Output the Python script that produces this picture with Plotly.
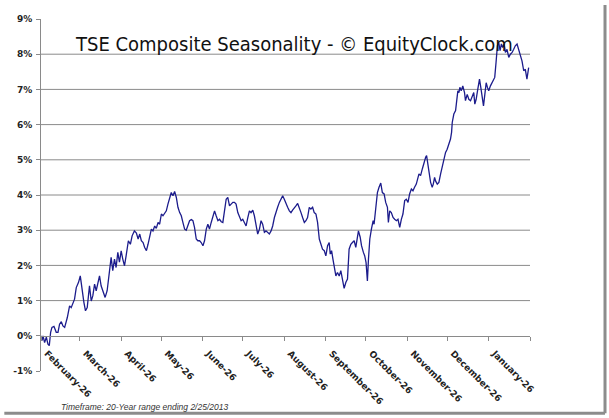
import pandas as pd
import plotly.graph_objects as go

# ---- data ----
start_date = "2012-02-26"
end_date = "2013-02-26"

day_offset = [
    0, 0.75, 1.5, 2.7, 4.0, 5.2, 6.2, 7.2, 8.2, 9.7, 11.4, 12.7, 13.9, 15.2, 16.4, 17.7,
    19.7, 21.4, 22.6, 23.9, 25.1, 26.4, 28.1, 29.4, 30.6, 32.1, 33.3, 34.6, 36.3, 37.6,
    38.8, 40.1, 41.3, 42.5, 43.8, 45.0, 46.3, 48.0, 49.5, 51.3, 52.5, 53.7, 55.0, 56.2,
    57.5, 58.7, 60.0, 61.2, 62.5, 63.7, 65.4, 66.9, 68.2, 69.9, 71.4, 72.7, 73.9, 75.1,
    76.4, 77.6, 78.9, 80.1, 81.4, 82.6, 83.8, 85.1, 86.3, 87.6, 88.8, 90.1, 91.3, 92.6,
    93.8, 95.0, 96.3, 97.5, 98.8, 100.0, 101.3, 102.5, 103.8, 105.0, 106.2, 107.5, 108.7,
    110.0, 111.2, 112.5, 113.7, 114.9, 116.2, 117.4, 118.7, 119.9, 121.2, 122.4, 123.7,
    124.9, 126.1, 127.4, 128.6, 129.9, 131.1, 132.4, 133.6, 134.9, 136.1, 137.3, 138.6,
    139.8, 141.1, 142.3, 143.6, 144.8, 146.0, 147.3, 148.5, 149.8, 151.0, 152.3, 153.5,
    154.8, 156.0, 157.2, 158.5, 159.7, 161.0, 162.2, 163.5, 164.7, 165.9, 167.2, 168.4,
    169.7, 170.9, 172.2, 173.4, 174.7, 175.9, 177.1, 178.4, 179.6, 180.9, 182.1, 183.4,
    184.6, 185.9, 187.1, 188.3, 189.6, 190.8, 192.1, 193.3, 194.6, 195.8, 197.1, 198.3,
    199.5, 200.8, 202.0, 203.3, 204.5, 205.8, 207.0, 208.3, 209.5, 210.7, 212.0, 213.2,
    214.5, 215.7, 216.5, 217.5, 218.5, 219.5, 220.7, 221.9, 223.2, 224.4, 225.7, 226.9,
    228.2, 229.4, 230.6, 231.9, 233.1, 234.4, 235.6, 236.9, 237.6, 238.9, 239.9, 241.3,
    242.3, 243.3, 244.3, 245.1, 246.1, 247.3, 248.6, 249.3, 250.5, 251.8, 253.0, 254.3,
    255.5, 256.8, 258.0, 259.3, 260.0, 261.0, 262.2, 263.5, 264.7, 266.0, 267.2, 268.5,
    269.7, 270.9, 272.2, 273.4, 274.7, 275.9, 277.2, 278.4, 279.6, 280.9, 282.9, 284.1,
    285.4, 286.6, 287.9, 288.6, 289.6, 290.4, 291.6, 292.8, 293.6, 294.6, 295.3, 296.6,
    297.8, 299.1, 300.3, 301.6, 302.8, 304.0, 305.3, 306.5, 307.3, 307.8, 309.0, 310.3,
    311.0, 312.0, 312.8, 313.5, 314.5, 315.7, 317.0, 317.7, 319.0, 320.2, 321.5, 322.7,
    323.9, 324.7, 325.7, 326.9, 328.2, 329.2, 330.2, 331.2, 332.2, 333.2, 334.2, 335.1,
    336.4, 337.6, 338.9, 339.6, 340.6, 341.6, 342.6, 343.6, 344.6, 345.6, 346.6, 347.6,
    348.8, 350.1, 351.3, 352.6, 353.8, 355.0, 356.3, 357.5, 358.8, 360.0, 361.3, 362.5,
    363.7, 365.0,
]

seasonal_return_pct = [
    0.00, -0.14, 0.00, -0.19, -0.04, -0.24, -0.28, 0.10, 0.24, 0.27, 0.10, 0.10, 0.33, 0.40, 0.28, 0.24,
    0.52, 0.85, 0.80, 0.90, 1.04, 1.37, 1.52, 1.70, 1.28, 0.95, 0.71, 0.80, 1.42, 0.99,
    1.14, 1.47, 1.28, 1.52, 1.70, 1.42, 1.28, 1.09, 1.28, 1.90, 2.23, 1.85, 2.18, 1.94,
    2.37, 2.09, 2.41, 2.18, 1.99, 2.27, 2.70, 2.60, 2.84, 2.98, 2.92, 2.75, 2.89, 2.70,
    2.65, 2.51, 2.42, 2.60, 2.89, 3.03, 2.98, 3.12, 3.05, 3.22, 3.17, 3.46, 3.41, 3.50,
    3.55, 3.74, 3.88, 4.07, 3.98, 4.10, 3.93, 3.65, 3.50, 3.41, 3.22, 3.03, 3.00,
    3.12, 3.27, 3.30, 3.27, 3.08, 2.75, 2.70, 2.70, 2.65, 2.56, 2.70, 3.03,
    3.17, 3.03, 3.22, 3.41, 3.55, 3.41, 3.27, 3.31, 3.24, 3.22, 3.60, 3.88,
    3.93, 3.69, 3.74, 3.79, 3.79, 3.74, 3.50, 3.36, 3.27, 3.31, 3.22, 3.12,
    3.36, 3.55, 3.50, 3.57, 3.41, 3.12, 2.89, 3.03, 3.27, 3.17, 2.94, 2.98,
    2.94, 2.89, 2.98, 3.12, 3.36, 3.55, 3.65, 3.79, 3.88, 3.98, 3.88, 3.74,
    3.65, 3.55, 3.50, 3.57, 3.65, 3.69, 3.76, 3.65, 3.50, 3.36, 3.22, 3.27,
    3.36, 3.65, 3.60, 3.65, 3.50, 3.46, 3.22, 2.75, 2.60, 2.46, 2.42, 2.27,
    2.56, 2.65, 2.32, 2.42, 2.18, 1.94, 1.70, 1.80, 1.70, 1.85, 1.61, 1.35,
    1.52, 1.61, 2.46, 2.60, 2.65, 2.70, 2.51, 2.75, 2.98, 2.80, 2.56, 2.37,
    2.27, 2.08, 1.56, 2.18, 2.75, 3.03, 3.27, 3.17, 3.55, 4.07, 4.22, 4.34,
    4.07, 4.03, 3.79, 3.65, 3.22, 3.55, 3.50, 3.36, 3.31, 3.27, 3.31, 3.08,
    3.31, 3.46, 3.84, 3.88, 3.79, 4.03, 4.17, 4.12, 4.22, 4.31, 4.60, 4.55,
    4.74, 4.93, 5.07, 5.12, 4.88, 4.69, 4.36, 4.22, 4.31, 4.50, 4.40, 4.31,
    4.36, 4.60, 4.79, 5.07, 5.21, 5.30, 5.45, 5.59, 5.78, 6.06, 6.30, 6.40,
    6.63, 6.96, 6.91, 7.06, 6.96, 7.10, 6.91, 6.68, 6.86, 6.72, 6.68, 6.82,
    6.91, 6.58, 6.72, 7.00, 7.29, 7.05, 6.77, 6.53, 6.86, 7.19, 7.05, 6.96,
    7.10, 7.19, 7.29, 7.34, 7.77, 8.24, 8.33, 8.10, 8.29, 8.19, 8.29, 8.05,
    8.14, 7.91, 8.00, 8.05, 8.14, 8.24, 8.29, 8.14, 7.95, 7.81, 7.53, 7.57,
    7.29, 7.62,
]

x_tick_dates = [
    "2012-02-26", "2012-03-26", "2012-04-26", "2012-05-26", "2012-06-26", "2012-07-26",
    "2012-08-26", "2012-09-26", "2012-10-26", "2012-11-26", "2012-12-26", "2013-01-26",
    "2013-02-26",
]
x_tick_labels = [
    "February-26", "March-26", "April-26", "May-26", "June-26", "July-26",
    "August-26", "September-26", "October-26", "November-26", "December-26",
    "January-26", "",
]
y_tick_values = [-1, 0, 1, 2, 3, 4, 5, 6, 7, 8, 9]
y_tick_labels = ["-1%", "0%", "1%", "2%", "3%", "4%", "5%", "6%", "7%", "8%", "9%"]
gridline_values = [1, 2, 3, 4, 5, 6, 7, 8]

title_text = "TSE Composite Seasonality - © EquityClock.com"
footer_text = "Timeframe: 20-Year range ending 2/25/2013"

# ---- figure ----
dates = pd.Timestamp(start_date) + pd.to_timedelta(day_offset, unit="D")

fig = go.Figure()
fig.add_trace(go.Scatter(
    x=dates, y=seasonal_return_pct, mode="lines",
    line=dict(color="#1c1c8c", width=1.3), hoverinfo="skip", showlegend=False,
))

grid_color = "#8a8a8a"
for g in gridline_values:
    fig.add_shape(type="line", xref="paper", yref="y", x0=0, x1=1, y0=g, y1=g,
                  line=dict(color=grid_color, width=1), layer="below")

tick_font = dict(family="DejaVu Sans", size=9, color="#222222", weight="bold")

fig.update_layout(
    width=609, height=418,
    margin=dict(l=41, r=79, t=19, b=47, pad=0),
    paper_bgcolor="white", plot_bgcolor="white",
    showlegend=False,
    xaxis=dict(
        type="date", range=[start_date, end_date],
        tickmode="array", tickvals=x_tick_dates, ticktext=x_tick_labels,
        tickangle=45, ticks="outside", ticklen=4, tickcolor=grid_color,
        showline=True, linecolor=grid_color, linewidth=1,
        showgrid=False, zeroline=False,
        anchor="free", position=0.1,
        tickfont=tick_font, ticklabelshift=6, ticklabelstandoff=4,
    ),
    yaxis=dict(
        range=[-1, 9], tickmode="array", tickvals=y_tick_values, ticktext=y_tick_labels,
        ticks="outside", ticklen=4, tickcolor=grid_color,
        showline=True, linecolor=grid_color, linewidth=1,
        showgrid=False, zeroline=False,
        tickfont=tick_font, ticklabelstandoff=2,
    ),
    annotations=[
        dict(text=title_text, xref="paper", yref="paper", x=0.065, y=0.928,
             xanchor="left", yanchor="middle", showarrow=False,
             font=dict(family="DejaVu Sans Condensed", size=20, color="#111111")),
        dict(text="<i>" + footer_text + "</i>", xref="paper", yref="paper",
             x=0.037, y=-0.101, xanchor="left", yanchor="middle", showarrow=False,
             font=dict(family="Liberation Sans", size=8.5, color="#333333")),
    ],
)

# image frame shadow (right and bottom)
fig.add_shape(type="line", xref="paper", yref="paper", x0=1.1534, x1=1.1534, y0=1.04, y1=-0.12,
              line=dict(color="#8c8c8c", width=3))
fig.add_shape(type="line", xref="paper", yref="paper", x0=-0.075, x1=1.1534, y0=-0.12, y1=-0.12,
              line=dict(color="#8c8c8c", width=3))

fig.write_html("out.html", config={"displayModeBar": False},
               post_script="document.body.style.margin='0';")
